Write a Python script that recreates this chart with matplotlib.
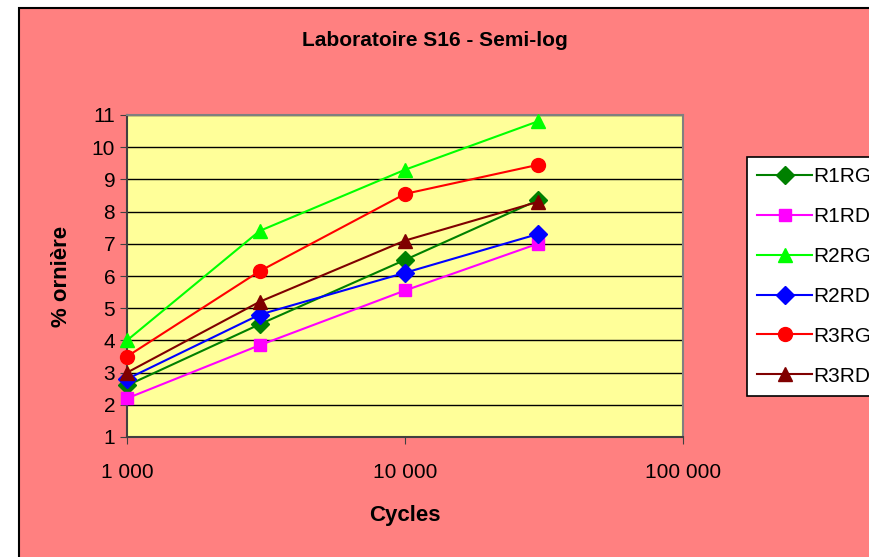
import matplotlib
matplotlib.use('Agg')
import matplotlib.pyplot as plt
from matplotlib.patches import Rectangle

plt.rcParams['font.family'] = ['Liberation Sans', 'DejaVu Sans']

cycles = [1000, 3000, 10000, 30000]
r1rg = [2.6, 4.5, 6.5, 8.35]
r1rd = [2.2, 3.85, 5.55, 7.0]
r2rg = [4.0, 7.4, 9.3, 10.8]
r2rd = [2.8, 4.8, 6.1, 7.3]
r3rg = [3.5, 6.15, 8.55, 9.45]
r3rd = [3.0, 5.2, 7.1, 8.3]

xticks = [1000, 10000, 100000]
xlabels = ['1 000', '10 000', '100 000']
yticks = list(range(1, 12))

series = [
    ('R1RG', r1rg, '#008000', 'D', 9),
    ('R1RD', r1rd, '#FF00FF', 's', 9),
    ('R2RG', r2rg, '#00FF00', '^', 10),
    ('R2RD', r2rd, '#0000FF', 'D', 9),
    ('R3RG', r3rg, '#FF0000', 'o', 10),
    ('R3RD', r3rd, '#800000', '^', 10),
]

fig = plt.figure(figsize=(8.7, 5.57), dpi=100, facecolor='white')
# pink chart-area background with its black frame
fig.patches.append(Rectangle((19/870, -0.01), 1.0, 1 - 8/557 + 0.01,
                             transform=fig.transFigure, facecolor='#FF8080',
                             edgecolor='black', linewidth=1.5, zorder=-5))

ax = fig.add_axes([127/870, 1 - 437/557, (683 - 127)/870, (437 - 115)/557])
ax.set_facecolor('#FFFF99')

for name, vals, col, mk, ms in series:
    ax.plot(cycles, vals, color=col, marker=mk, markersize=ms, linewidth=1.5,
            label=name, clip_on=False, zorder=3)

ax.set_xscale('log')
ax.set_xlim(1000, 100000)
ax.set_ylim(1, 11)
ax.set_xticks(xticks)
ax.set_xticklabels(xlabels)
ax.minorticks_off()
ax.set_yticks(yticks)
ax.yaxis.grid(True, color='black', linewidth=1)
ax.set_axisbelow(True)
ax.tick_params(axis='both', labelsize=15, length=5, direction='out', color='#404040')
ax.tick_params(axis='x', pad=14)
for s in ['left', 'bottom']:
    ax.spines[s].set_color('#404040')
    ax.spines[s].set_linewidth(1.5)
for s in ['top', 'right']:
    ax.spines[s].set_color('#808080')
    ax.spines[s].set_linewidth(1.5)

ax.set_xlabel('Cycles', fontsize=16, fontweight='bold', labelpad=16)
ax.set_ylabel('% ornière', fontsize=16, fontweight='bold', labelpad=14)
fig.text(0.5, 1 - 40/557, 'Laboratoire S16 - Semi-log', ha='center', va='center',
         fontsize=15, fontweight='bold')

leg = fig.legend(loc='upper left', bbox_to_anchor=(747/870, 1 - 157/557),
                 fontsize=15, frameon=True, fancybox=False, edgecolor='black',
                 facecolor='white', framealpha=1,
                 handlelength=2.6, labelspacing=1.0, borderpad=0.5,
                 handletextpad=0.1, borderaxespad=0)
leg.get_frame().set_linewidth(1.2)

plt.savefig('out.png', dpi=100, facecolor=fig.get_facecolor())
